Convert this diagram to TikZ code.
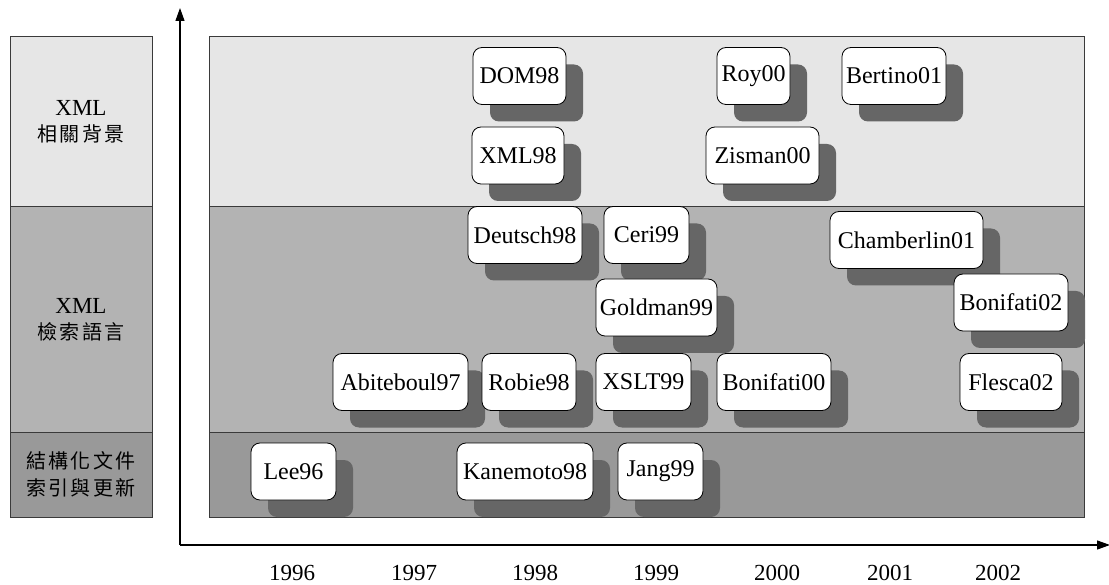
\documentclass[tikz,border=0pt]{standalone}
\usepackage{fontspec}
\setmainfont{Liberation Serif}
\newfontfamily\cjk[LetterSpace=12]{Noto Sans CJK TC}
\usetikzlibrary{shadows,arrows.meta}
\definecolor{bandA}{HTML}{E6E6E6}
\definecolor{bandB}{HTML}{B3B3B3}
\definecolor{bandC}{HTML}{999999}
\definecolor{shade}{HTML}{666666}
\definecolor{rim}{HTML}{3A3A3A}
\tikzset{
  band/.style={draw=rim, line width=0.9pt},
  paper/.style={draw=black, line width=0.8pt, fill=white, rounded corners=9pt,
    minimum height=57pt, inner sep=0pt, font=\fontsize{24}{28}\selectfont,
    general shadow={fill=shade, shadow xshift=17pt, shadow yshift=-17pt}},
  topic/.style={align=center, font=\fontsize{23}{30}\selectfont},
  yearlab/.style={font=\fontsize{23}{26}\selectfont},
  axis/.style={line width=1.2pt, -{Triangle[length=13pt,width=9pt]}}
}
\begin{document}
\begin{tikzpicture}[x=1pt,y=-1pt]
\useasboundingbox (0,0) rectangle (1109,585);
\fill[white] (0,0) rectangle (1109,585);

% category column
\draw[band, fill=bandA] (10,36) rectangle (152,206);
\draw[band, fill=bandB] (10,206) rectangle (152,432);
\draw[band, fill=bandC] (10,432) rectangle (152,517);
\node[topic] (catA) at (81,122) {XML\\[-4pt]{\cjk\fontsize{20}{26}\selectfont 相關背景}};
\node[topic] (catB) at (81,320) {XML\\[-4pt]{\cjk\fontsize{20}{26}\selectfont 檢索語言}};
\node[topic] (catC) at (81,474) {{\cjk\fontsize{20}{26}\selectfont 結構化文件}\\[-3pt]{\cjk\fontsize{20}{26}\selectfont 索引與更新}};

% main bands
\draw[band, fill=bandA] (209,36) rectangle (1084,206);
\draw[band, fill=bandB] (209,206) rectangle (1084,432);
\draw[band, fill=bandC] (209,432) rectangle (1084,517);

% axes
\coordinate (origin) at (180,545);
\coordinate (ytip) at (180,8);
\coordinate (xtip) at (1110,545);
\draw[axis] (origin) -- (ytip);
\draw[axis] (origin) -- (xtip);

% year labels
\foreach \yr/\xp in {1996/292,1997/414,1998/535,1999/656,2000/777,2001/890,2002/998}
  \node[yearlab] (y\yr) at (\xp,573) {\yr};

% publications: XML background
\node[paper, minimum width=93pt]  (dom98)   at (519.5,76)   {DOM98};
\node[paper, minimum width=73pt]  (roy00)   at (753.5,76)   {Roy00};
\node[paper, minimum width=104pt] (bert01)  at (894,76)     {Bertino01};
\node[paper, minimum width=92pt]  (xml98)   at (518,155.5)  {XML98};
\node[paper, minimum width=113pt] (zis00)   at (762.5,155.5){Zisman00};

% publications: XML query languages
\node[paper, minimum width=114pt] (deu98)   at (525,235)    {Deutsch98};
\node[paper, minimum width=85pt]  (ceri99)  at (646.5,235)  {Ceri99};
\node[paper, minimum width=153pt] (cham01)  at (906.5,240)  {Chamberlin01};
\node[paper, minimum width=114pt] (bon02)   at (1011,302.5) {Bonifati02};
\node[paper, minimum width=121pt] (gold99)  at (656.5,307.5){Goldman99};
\node[paper, minimum width=135pt] (abi97)   at (400.5,382)  {Abiteboul97};
\node[paper, minimum width=94pt]  (rob98)   at (529,382)    {Robie98};
\node[paper, minimum width=95pt]  (xslt99)  at (643.5,382)  {XSLT99};
\node[paper, minimum width=114pt] (bon00)   at (774,382)    {Bonifati00};
\node[paper, minimum width=102pt] (fle02)   at (1011,382)   {Flesca02};

% publications: structured document indexing and update
\node[paper, minimum width=85pt]  (lee96)   at (293.5,471.5){Lee96};
\node[paper, minimum width=136pt] (kan98)   at (525,471.5)  {Kanemoto98};
\node[paper, minimum width=85pt]  (jang99)  at (660.5,471.5){Jang99};
\end{tikzpicture}
\end{document}
